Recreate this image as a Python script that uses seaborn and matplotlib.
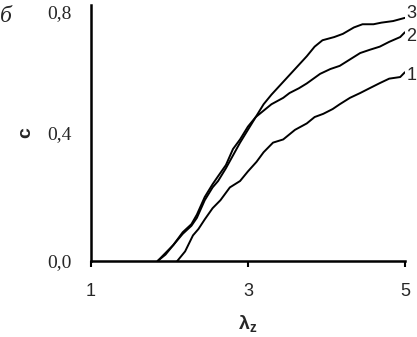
import matplotlib
matplotlib.use("Agg")
import matplotlib.pyplot as plt
import seaborn as sns
import pandas as pd

# curves (lambda_z vs c)
x3 = [1.85, 1.95, 2.05, 2.17, 2.28, 2.35, 2.45, 2.55, 2.62, 2.72, 2.81, 2.90, 3.00,
      3.10, 3.20, 3.30, 3.45, 3.60, 3.75, 3.85, 3.95, 4.10, 4.21, 4.35, 4.46, 4.60,
      4.70, 4.85, 5.00]
c3 = [0.0, 0.02, 0.05, 0.09, 0.115, 0.145, 0.20, 0.24, 0.265, 0.30, 0.35, 0.38, 0.42,
      0.45, 0.49, 0.52, 0.56, 0.60, 0.64, 0.67, 0.69, 0.70, 0.71, 0.73, 0.74, 0.74,
      0.745, 0.75, 0.76]

x2 = [1.85, 1.95, 2.05, 2.17, 2.28, 2.35, 2.45, 2.55, 2.62, 2.72, 2.81, 2.90, 3.00,
      3.10, 3.20, 3.30, 3.45, 3.53, 3.65, 3.75, 3.92, 4.05, 4.17, 4.30, 4.43, 4.55,
      4.68, 4.80, 4.94, 5.00]
c2 = [0.0, 0.025, 0.05, 0.085, 0.11, 0.135, 0.19, 0.23, 0.25, 0.29, 0.33, 0.37, 0.41,
      0.45, 0.47, 0.49, 0.51, 0.525, 0.54, 0.555, 0.585, 0.60, 0.61, 0.63, 0.65, 0.66,
      0.67, 0.685, 0.70, 0.715]

x1 = [2.10, 2.20, 2.30, 2.37, 2.45, 2.55, 2.65, 2.77, 2.90, 3.00, 3.11, 3.20, 3.32,
      3.45, 3.60, 3.75, 3.85, 3.96, 4.08, 4.17, 4.30, 4.43, 4.55, 4.68, 4.80, 4.94, 5.00]
c1 = [0.0, 0.03, 0.08, 0.10, 0.13, 0.165, 0.19, 0.23, 0.25, 0.28, 0.31, 0.34, 0.37,
      0.38, 0.41, 0.43, 0.45, 0.46, 0.475, 0.49, 0.51, 0.525, 0.54, 0.556, 0.57, 0.575, 0.59]

curves = [("3", x3, c3), ("2", x2, c2), ("1", x1, c1)]
label_shift = {"3": 3, "2": -3, "1": -2}   # vertical nudge of end labels, points
x_ticks = [1, 3, 5]
y_ticks = [0.0, 0.4, 0.8]
y_tick_labels = ["0,0", "0,4", "0,8"]

sns.set_style("ticks")
plt.rcParams["font.family"] = ["Liberation Sans", "DejaVu Sans"]
plt.rcParams["mathtext.fontset"] = "custom"
plt.rcParams["mathtext.rm"] = "Liberation Sans"
plt.rcParams["mathtext.bf"] = "Liberation Sans:bold"
plt.rcParams["mathtext.it"] = "Liberation Sans:italic"

fig = plt.figure(figsize=(4.17, 3.37), dpi=100)
ax = fig.add_axes([0.218, 0.2255, 0.753, 0.7595])

for name, xs, cs in curves:
    df = pd.DataFrame({"lz": xs, "c": cs})
    sns.lineplot(data=df, x="lz", y="c", ax=ax, color="black", linewidth=1.4, sort=False)
    ax.annotate(name, xy=(xs[-1], cs[-1]), xytext=(1, label_shift[name]),
                textcoords="offset points", ha="left", va="center", fontsize=13)

ax.set_xlim(1, 5)
ax.set_ylim(0, 0.8)
ax.set_xticks(x_ticks)
ax.set_xticklabels([str(t) for t in x_ticks], fontsize=13)
ax.set_yticks(y_ticks)
ax.set_yticklabels(y_tick_labels, family=["Liberation Serif"], fontsize=14)
ax.tick_params(axis="x", direction="out", length=4, width=1.5, pad=12, color="black")
ax.tick_params(axis="y", length=0, pad=14)
# top label sits a little lower so it stays inside the picture
ax.get_yticklabels()[-1].set_va("top")

for s in ["top", "right"]:
    ax.spines[s].set_visible(False)
for s in ["left", "bottom"]:
    ax.spines[s].set_linewidth(1.8)
    ax.spines[s].set_color("black")

ax.set_xlabel(r"$\mathbf{\lambda_z}$", fontsize=14, labelpad=9)
ax.set_ylabel("c", fontsize=14, fontweight="bold", labelpad=9)

fig.text(0.014, 0.95, "б", fontsize=17, style="italic", family=["Liberation Serif"],
         ha="center", va="center")

fig.savefig("out.png", dpi=100)
